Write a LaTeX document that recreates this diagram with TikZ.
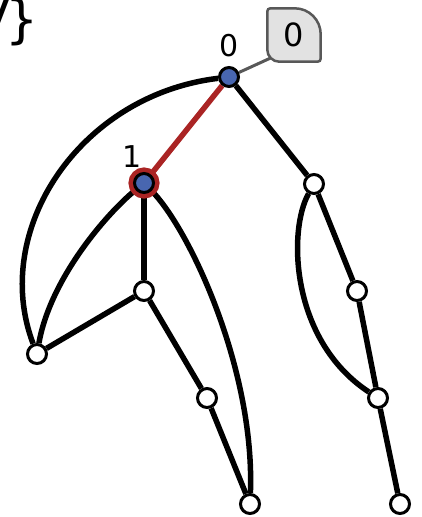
\documentclass[tikz,border=0pt]{standalone}
\usepackage{fontspec}
\setmainfont{DejaVu Sans}
\usetikzlibrary{positioning,backgrounds}
\definecolor{nodeblue}{RGB}{72,102,176}
\definecolor{selred}{RGB}{170,36,36}
\definecolor{tagfill}{RGB}{226,226,226}
\definecolor{tagline}{RGB}{88,88,88}

\begin{document}
\begin{tikzpicture}[
    x=1pt, y=-1pt,
    vtx/.style={draw, circle, line width=3pt, fill=white, minimum size=19pt, inner sep=0pt},
    hit/.style={vtx, fill=nodeblue},
    sel/.style={hit, preaction={draw=selred, line width=12pt}},
    edge/.style={line width=5.5pt},
    lbl/.style={font=\fontsize{30}{36}\selectfont, inner sep=0pt},
]
\useasboundingbox (0,0) rectangle (421,517);

% clipped title
\node[lbl, font=\fontsize{52}{60}\selectfont, anchor=base east] (title) at (39, 37) {V\kern-4pt\}};

% vertices
\node[hit] (a) at (229, 77) {};
\node[sel] (b) at (144, 183) {};
\node[vtx] (c) at (314, 184) {};
\node[vtx] (d) at (144, 291) {};
\node[vtx] (e) at (37, 354) {};
\node[vtx] (f) at (357, 291) {};
\node[vtx] (g) at (207, 398) {};
\node[vtx] (h) at (378, 398) {};
\node[vtx] (i) at (250, 504) {};
\node[vtx] (j) at (400, 504) {};

% labels
\node[lbl] (la) at (229, 46) {0};
\node[lbl] (lb) at (132, 157) {1};
\node[lbl, font=\fontsize{32}{38}\selectfont, minimum size=53pt] (tag) at (294, 35) {0};
\coordinate (pin) at ([shift={(4,-4)}]tag.south west);

\begin{scope}[on background layer]
% tag
\draw[tagline, line width=3pt] (a) -- (pin);
\draw[tagline, fill=tagfill, line width=2.5pt]
    (tag.south) [rounded corners=12pt] -- (tag.south west)
    [rounded corners=3pt] -- (tag.north west)
    [rounded corners=26pt] -- (tag.north east)
    [rounded corners=3pt] -- (tag.south east) -- cycle;

% edges
\draw[edge, selred] (a) -- (b);
\draw[edge] (a) -- (c);
\draw[edge] (a) .. controls (80, 95) and (-10, 230) .. (e);
\draw[edge] (b) -- (d);
\draw[edge] (b) .. controls (105, 215) and (50, 280) .. (e);
\draw[edge] (b) .. controls (190, 230) and (255, 370) .. (i);
\draw[edge] (d) -- (e);
\draw[edge] (d) -- (g);
\draw[edge] (g) -- (i);
\draw[edge] (c) -- (f);
\draw[edge] (f) -- (h);
\draw[edge] (c) .. controls (288, 230) and (290, 340) .. (h);
\draw[edge] (h) -- (j);
\end{scope}
\end{tikzpicture}
\end{document}
